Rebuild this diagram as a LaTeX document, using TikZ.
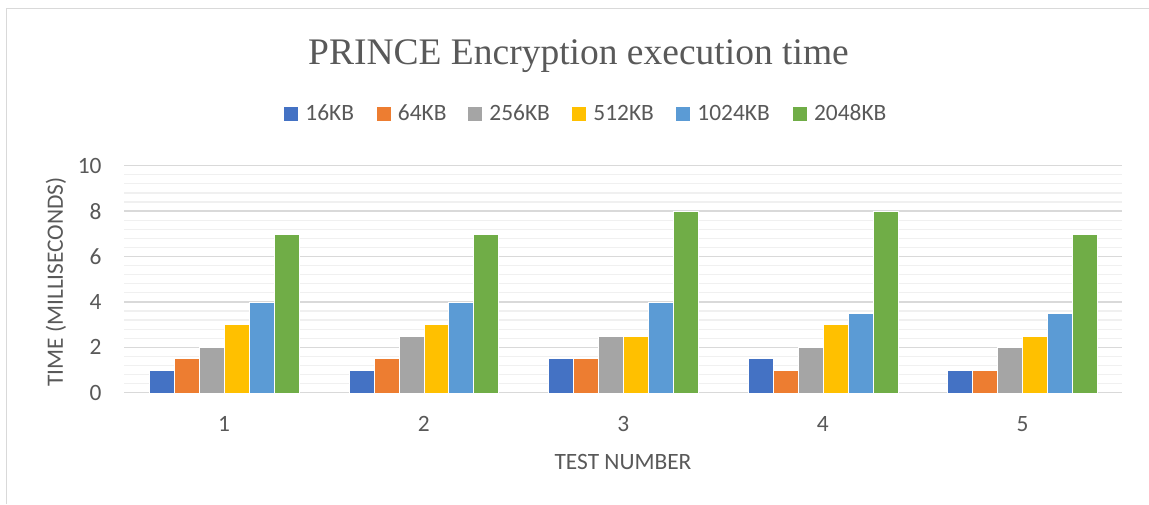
\documentclass[tikz,border=0pt]{standalone}
\usepackage{fontspec}
\setmainfont{Carlito}
\newfontfamily\titlefont{Liberation Serif}
\definecolor{txt}{HTML}{595959}
\definecolor{gridmajor}{HTML}{D9D9D9}
\definecolor{gridminor}{HTML}{F0F0F0}
\definecolor{framecol}{HTML}{D9D9D9}
\definecolor{s1}{HTML}{4472C4}
\definecolor{s2}{HTML}{ED7D31}
\definecolor{s3}{HTML}{A5A5A5}
\definecolor{s4}{HTML}{FFC000}
\definecolor{s5}{HTML}{5B9BD5}
\definecolor{s6}{HTML}{70AD47}
\tikzset{
  lbl/.style={text=txt, inner sep=0pt, font=\fontsize{11.7}{14}\selectfont},
  ttl/.style={text=txt, inner sep=0pt, font=\titlefont\fontsize{18.75}{22}\selectfont},
  majorline/.style={draw=gridmajor, line width=0.75pt},
  minorline/.style={draw=gridminor, line width=0.6pt},
  barbox/.style={draw=white, line width=0.2pt},
  keybox/.style={inner sep=0pt, minimum size=7pt}
}
\begin{document}
\begin{tikzpicture}[x=0.5pt,y=-0.5pt]
\useasboundingbox (0,0) rectangle (1149,504);
\fill[white] (0,0) rectangle (1149,504);
% chart frame (top and left edges visible)
\draw[draw=framecol, line width=0.75pt] (1149,8.5) -- (6.5,8.5) -- (6.5,504);

% title
\node[ttl, anchor=base] (title) at (578.5,64) {PRINCE Encryption execution time};

% legend
\foreach \xs/\name [count=\i] in {284/16KB, 376.5/64KB, 468/256KB, 572/512KB, 676/1024KB, 792.7/2048KB} {
  \node[keybox, fill=s\i] (key\i) at (\xs+7,114) {};
  \node[lbl, anchor=base west] (keytext\i) at (\xs+21,120.7) {\name};
}

% gridlines: minor every 0.4, major every 2
\foreach \k in {1,...,24} {
  \pgfmathsetmacro\yy{392.7-\k*0.4*22.7}
  \draw[minorline] (124.3,\yy) -- (1122.3,\yy);
}
\foreach \v in {2,4,...,10} {
  \pgfmathsetmacro\yy{392.7-\v*22.7}
  \draw[majorline] (124.3,\yy) -- (1122.3,\yy);
}
\draw[majorline] (124.3,392.7) -- (1122.3,392.7);

% y tick labels
\foreach \v in {0,2,...,10} {
  \pgfmathsetmacro\yy{392.7-\v*22.7}
  \node[lbl, anchor=east] (ytick\v) at (102,\yy) {\v};
}

% bars
\foreach \vals [count=\g] in {{1,1.5,2,3,4,7},{1,1.5,2.5,3,4,7},{1.5,1.5,2.5,2.5,4,8},{1.5,1,2,3,3.5,8},{1,1,2,2.5,3.5,7}} {
  \pgfmathsetmacro\cx{124.3+(\g-0.5)*199.6}
  \foreach \v [count=\j] in \vals {
    \pgfmathsetmacro\xl{\cx-74.85+(\j-1)*24.95}
    \pgfmathsetmacro\xr{\xl+24.95}
    \pgfmathsetmacro\yt{392.7-\v*22.7}
    \filldraw[barbox, fill=s\j] (\xl,392.7) rectangle (\xr,\yt);
  }
  \node[lbl] (cat\g) at (\cx,423.7) {\g};
}

% axis titles
\node[lbl] (xtitle) at (623,461.5) {TEST NUMBER};
\node[lbl, rotate=90] (ytitle) at (56,282) {TIME (MILLISECONDS)};
\end{tikzpicture}
\end{document}
